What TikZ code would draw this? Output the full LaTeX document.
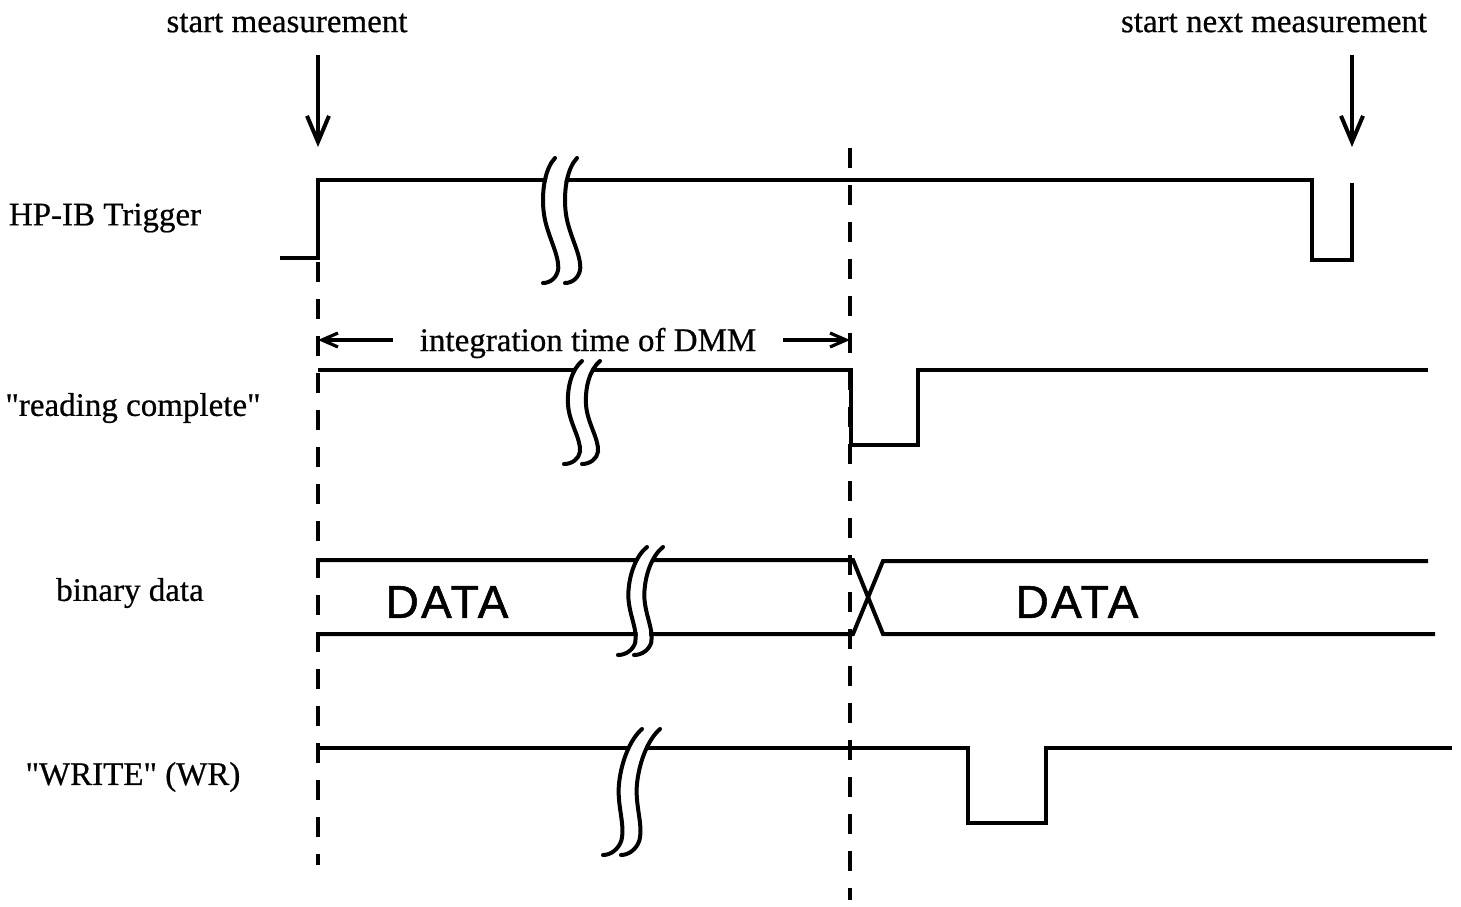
\documentclass[tikz,border=0pt]{standalone}
\usepackage{fontspec}
\setmainfont{Liberation Serif}[FakeBold=0.6]
\newfontfamily\handfont[LetterSpace=5,FakeBold=1.2]{Liberation Sans}
\usetikzlibrary{arrows.meta}

\tikzset{
  signal/.style={line width=2pt, line join=miter},
  guide/.style={line width=1.6pt, dash pattern=on 10pt off 8.5pt},
  downarrow/.style={line width=2pt, -{Straight Barb[length=13pt, width=11pt]}},
  dimarrow/.style={line width=1.6pt, -{Straight Barb[length=8pt, width=7pt]}},
  breakline/.style={line width=2pt, line cap=round}
}

% #1 x, #2 y of the top end, #3 height, #4 lean, #5 gap
\newcommand{\brkpath}[1]{(0,0) .. controls ({-10+#1*0.08},8) and ({-15+#1*0.25},25) .. ({-14+#1*0.42},42)
  .. controls ({-13+#1*0.6},60) and ({-1+#1*0.75},75) .. ({-2+#1*0.88},88)
  .. controls ({-3+#1*0.95},95) and ({-10+#1},100) .. ({-18+#1},100)}
\newcommand{\signalbreak}[5]{%
  \pgfmathsetmacro\gapw{#5*0.5-2.4}
  \begin{scope}[shift={(#1,#2)}, yscale=#3/100]
    \draw[white, line width=\gapw pt, shift={(#5/2,0)}] \brkpath{#4};
    \draw[breakline] \brkpath{#4};
    \draw[breakline, shift={(#5,0)}] \brkpath{#4};
  \end{scope}
}

\begin{document}
\begin{tikzpicture}[x=0.5pt, y=-0.5pt, font=\fontsize{16.5pt}{20pt}\selectfont]
  \useasboundingbox (0,0) rectangle (1461,906);

  \node (start) at (287,23) {start measurement};
  \node (next) at (1274,23) {start next measurement};

  \node (trig) at (105,218) {HP-IB Trigger};
  \node (read) at (133,408) {\textquotedbl reading complete\textquotedbl};
  \node (bin) at (130,593) {binary data};
  \node (wr) at (133,777) {\textquotedbl WRITE\textquotedbl\ (WR)};

  \coordinate (t0) at (318,147);
  \coordinate (t1) at (1352,147);
  \coordinate (m0) at (318,340);
  \coordinate (m1) at (850,340);

  \draw[guide] (318,262) -- (318,865);
  \draw[guide] (850,148) -- (850,900);

  \draw[downarrow] (318,55) -- (t0);
  \draw[downarrow] (1352,55) -- (t1);

  \draw[signal] (280,258) -- (318,258) -- (318,180) -- (1312,180) -- (1312,260) -- (1352,260) -- (1352,183);
  \draw[signal] (318,370) -- (851,370) -- (851,445) -- (918,445) -- (918,370) -- (1428,370);
  \draw[signal] (318,560) -- (853,560) -- (883,634) -- (1435,634);
  \draw[signal] (318,634) -- (853,634) -- (883,561) -- (1428,561);
  \draw[signal] (318,748) -- (968,748) -- (968,823) -- (1046,823) -- (1046,748) -- (1452,748);

  \node (integ) at (588,343) {integration time of DMM};
  \draw[dimarrow] ([xshift=-10pt]integ.west |- m0) -- (m0);
  \draw[dimarrow] ([xshift=10pt]integ.east |- m1) -- (m1);

  \node[font=\handfont\fontsize{23pt}{26pt}\selectfont] (data0) at (447,602) {DATA};
  \node[font=\handfont\fontsize{23pt}{26pt}\selectfont] (data1) at (1077,602) {DATA};

  \signalbreak{555}{158}{125}{6}{22}
  \signalbreak{582}{361}{103}{0}{18}
  \signalbreak{647}{547}{108}{-11}{16}
  \signalbreak{642}{729}{126}{-21}{18}
\end{tikzpicture}
\end{document}
